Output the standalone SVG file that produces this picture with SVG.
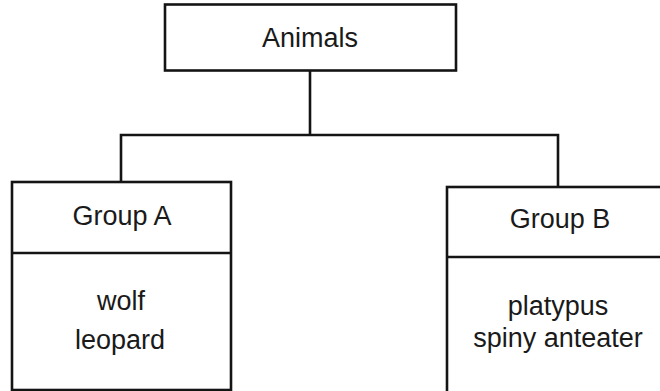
<svg xmlns="http://www.w3.org/2000/svg" width="660" height="391" viewBox="0 0 660 391">
<style>
.box{fill:#fff;stroke:#141414;stroke-width:2.6}
.ln{fill:none;stroke:#141414;stroke-width:2.6}
text{font-family:"Liberation Sans",Arial,sans-serif;font-size:27px;fill:#1a1a1a;text-anchor:middle}
</style>
<rect width="660" height="391" fill="#fff"/>
<g id="connectors">
<line class="ln" x1="310" y1="70" x2="310" y2="135"/>
<polyline class="ln" points="121,182 121,135 558,135 558,187"/>
</g>
<g id="animals">
<rect class="box" x="165" y="4.5" width="291" height="66"/>
<text x="310" y="47">Animals</text>
</g>
<g id="groupA">
<rect class="box" x="12" y="182" width="219" height="208"/>
<line class="ln" x1="12" y1="253" x2="231" y2="253"/>
<text x="122" y="225">Group A</text>
<text x="121" y="310">wolf</text>
<text x="120" y="349">leopard</text>
</g>
<g id="groupB">
<rect class="box" x="447" y="187" width="220" height="210"/>
<line class="ln" x1="447" y1="257" x2="667" y2="257"/>
<text x="560" y="228">Group B</text>
<text x="558" y="315">platypus</text>
<text x="558" y="347">spiny anteater</text>
</g>
</svg>
